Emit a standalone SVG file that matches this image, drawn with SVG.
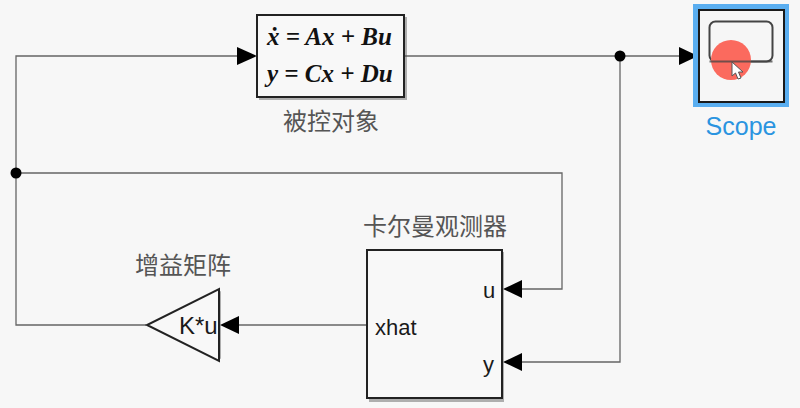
<svg xmlns="http://www.w3.org/2000/svg" width="800" height="408" viewBox="0 0 800 408">
<style>
.bk{fill:#f8f8f8;stroke:#222;stroke-width:2}
.sh{fill:#555;opacity:.45}
.w{fill:none;stroke:#666;stroke-width:1.3}
.ah{fill:#000}
.dot{fill:#000}
.t{font-family:"Liberation Sans",Arial,sans-serif;font-size:22px;fill:#1a1a1a}
.c{font-family:"Noto Sans CJK SC","Noto Sans",sans-serif;font-size:24px;fill:#555}
.m{font-family:"Liberation Serif","Times New Roman",serif;font-size:25px;font-weight:bold;font-style:italic;fill:#111}
</style>
<rect width="800" height="408" fill="#f7f7f7"/>
<g id="connectors">
<path class="w" d="M146 325H16V56H237"/>
<path class="w" d="M16 173H562V289H522"/>
<path class="w" d="M404 56H679"/>
<path class="w" d="M620 56V362H522"/>
<path class="w" d="M367 325H237"/>
<path class="ah" d="M237 47L257 56L237 65Z"/>
<path class="ah" d="M679 47L698 56L679 65Z"/>
<path class="ah" d="M522 280L503 289L522 298Z"/>
<path class="ah" d="M522 353L503 362L522 371Z"/>
<path class="ah" d="M239 316L220 325L239 334Z"/>
<circle class="dot" cx="620" cy="56" r="5.500"/>
<circle class="dot" cx="16" cy="173" r="5.500"/>
</g>
<g id="plant">
<rect class="sh" x="259" y="17" width="148" height="83"/>
<rect class="bk" x="257" y="15" width="147" height="82"/>
<text class="m" x="267" y="45">ẋ = Ax + Bu</text>
<text class="m" x="267" y="82">y = Cx + Du</text>
<text class="c" x="331" y="130" text-anchor="middle">被控对象</text>
</g>
<g id="scope">
<rect x="693" y="4" width="96" height="103" fill="#5aaef0"/>
<rect x="699" y="10" width="85" height="92" fill="#f6f6f6" stroke="#1a1a1a" stroke-width="2"/>
<rect x="709.500" y="21.500" width="63" height="40" rx="6" fill="none" stroke="#444" stroke-width="2"/>
<circle cx="731" cy="60" r="20" fill="#fb6a5e"/>
<path d="M709.500 61.500H772.500" stroke="#444" stroke-width="2" fill="none" opacity=".75"/>
<path d="M732 62V76L735.500 73L738 79L741 78L738.500 72H743Z" fill="#fff" stroke="#555" stroke-width="1"/>
<text x="741" y="135" text-anchor="middle" style="font-family:'Liberation Sans',Arial,sans-serif;font-size:25px;fill:#2a94e0">Scope</text>
</g>
<g id="gain">
<path class="sh" d="M221 291V359L150 326Z"/>
<path d="M219 289V361L147 325Z" fill="#f8f8f8" stroke="#222" stroke-width="2"/>
<text class="t" x="179" y="334" style="font-size:24px">K*u</text>
<text class="c" x="183" y="274" text-anchor="middle">增益矩阵</text>
</g>
<g id="observer">
<rect class="sh" x="369" y="252" width="135" height="150"/>
<rect class="bk" x="367" y="250" width="135" height="148"/>
<text class="t" x="375" y="335">xhat</text>
<text class="t" x="483" y="298">u</text>
<text class="t" x="483" y="372">y</text>
<text class="c" x="435" y="235" text-anchor="middle">卡尔曼观测器</text>
</g>
</svg>
